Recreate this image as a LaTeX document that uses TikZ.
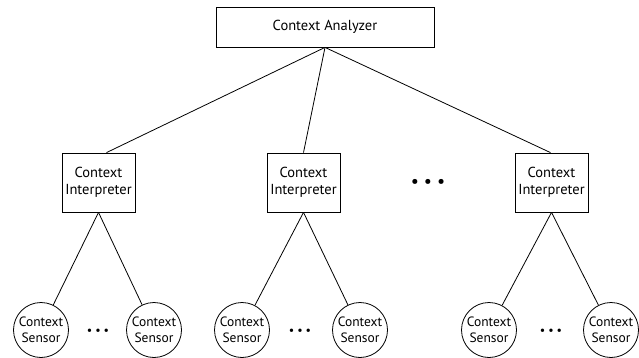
\documentclass[tikz,border=0pt]{standalone}
\usepackage{fontspec}
\setmainfont{PT Sans}
\usetikzlibrary{positioning}

\begin{document}
\begin{tikzpicture}[x=1pt,y=-1pt,line width=0.8pt,
   font=\fontsize{14.5}{17}\selectfont,
   box/.style={draw,rectangle,inner sep=0pt,align=center},
   interp/.style={box,minimum width=73pt,minimum height=59pt},
   sensor/.style={draw,circle,minimum size=55pt,inner sep=0pt,align=center,
                  font=\fontsize{13.5}{16.5}\selectfont},
   bigdots/.style={inner sep=0pt,font=\fontsize{18}{18}\selectfont},
   smalldots/.style={inner sep=0pt,font=\fontsize{12}{12}\selectfont}]
   \useasboundingbox (0,0) rectangle (639,358);
   % top level
   \node[box,minimum width=218pt,minimum height=40pt] (ana) at (325,27) {Context Analyzer};
   % interpreters
   \node[interp] (int1) at (98.5,182.5) {Context\\Interpreter};
   \node[interp] (int2) at (303.5,182.5) {Context\\Interpreter};
   \node[interp] (int3) at (551.5,182.5) {Context\\Interpreter};
   \node[bigdots] (dotsI) at (428,183) {\textbullet\hspace{5pt}\textbullet\hspace{5pt}\textbullet};
   % sensors
   \node[sensor] (s1) at (41,330) {Context\\Sensor};
   \node[sensor] (s2) at (154,330) {Context\\Sensor};
   \node[sensor] (s3) at (242,330) {Context\\Sensor};
   \node[sensor] (s4) at (360,330) {Context\\Sensor};
   \node[sensor] (s5) at (489,330) {Context\\Sensor};
   \node[sensor] (s6) at (611,330) {Context\\Sensor};
   \node[smalldots] (dots1) at (98,332) {\textbullet\hspace{3pt}\textbullet\hspace{3pt}\textbullet};
   \node[smalldots] (dots2) at (300,332) {\textbullet\hspace{3pt}\textbullet\hspace{3pt}\textbullet};
   \node[smalldots] (dots3) at (551,332) {\textbullet\hspace{3pt}\textbullet\hspace{3pt}\textbullet};
    \path
    (ana.south) edge ([xshift=8pt]int1.north)
                edge (int2.north)
                edge ([xshift=-1pt]int3.north)
    (int1.south) edge (s1) edge (s2)
    (int2.south) edge (s3) edge (s4)
    (int3.south) edge (s5) edge (s6);
\end{tikzpicture}
\end{document}
